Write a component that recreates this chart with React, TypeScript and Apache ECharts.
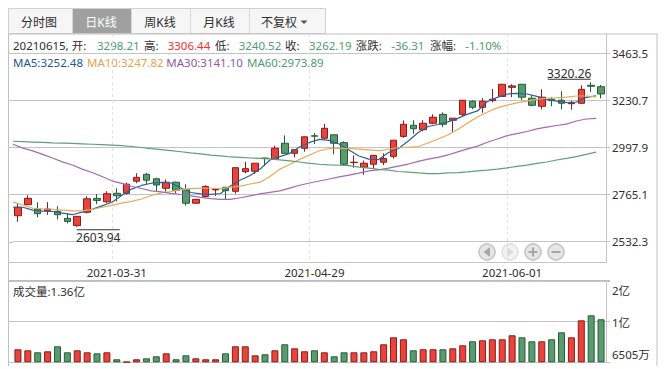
import React, { useEffect, useRef } from "react";
import * as echarts from "echarts";

const dates = [
  "2021-03-17","2021-03-18","2021-03-19","2021-03-22","2021-03-23","2021-03-24","2021-03-25","2021-03-26","2021-03-29","2021-03-30",
  "2021-03-31","2021-04-01","2021-04-02","2021-04-06","2021-04-07","2021-04-08","2021-04-09","2021-04-12","2021-04-13","2021-04-14",
  "2021-04-15","2021-04-16","2021-04-19","2021-04-20","2021-04-21","2021-04-22","2021-04-23","2021-04-26","2021-04-27","2021-04-28",
  "2021-04-29","2021-04-30","2021-05-06","2021-05-07","2021-05-10","2021-05-11","2021-05-12","2021-05-13","2021-05-14","2021-05-17",
  "2021-05-18","2021-05-19","2021-05-20","2021-05-21","2021-05-24","2021-05-25","2021-05-26","2021-05-27","2021-05-28","2021-05-31",
  "2021-06-01","2021-06-02","2021-06-03","2021-06-04","2021-06-07","2021-06-08","2021-06-09","2021-06-10","2021-06-11","2021-06-15",
];
const labelledDays = ["2021-03-31", "2021-04-29", "2021-06-01"];

// open, close, low, high
const candles: number[][] = [
  [2659,2701,2629,2717],[2714,2745,2711,2760],[2692,2669,2651,2726],[2684,2692,2663,2726],[2681,2664,2641,2706],
  [2646,2631,2621,2672],[2610,2656,2603.94,2658],[2676,2743,2671,2755],[2745,2735,2716,2767],[2728,2768,2722,2780],
  [2770,2758,2730,2795],[2770,2815,2763,2823],[2830,2849,2820,2869],[2864,2835,2815,2872],[2842,2811,2778,2847],
  [2795,2825,2778,2839],[2825,2785,2770,2828],[2788,2721,2709,2815],[2721,2740,2719,2742],[2754,2804,2750,2810],
  [2787,2790,2757,2792],[2800,2783,2742,2801],[2780,2897,2768,2898],[2877,2892,2869,2925],[2879,2919,2866,2920],
  [2945,2942,2905,2946],[2939,2993,2936,3006],[3018,2968,2967,3057],[2968,2986,2948,2987],[2993,3050,2976,3051],
  [3055,3053,3014,3069],[3043,3092,3038,3113],[3060,3018,2963,3061],[3021,2914,2909,3028],[2922,2924,2897,2958],
  [2899,2919,2862,2932],[2914,2958,2890,2960],[2924,2942,2910,2968],[2953,3033,2942,3034],[3052,3112,3045,3131],
  [3107,3090,3065,3132],[3085,3117,3077,3132],[3117,3147,3112,3161],[3161,3112,3097,3171],[3132,3142,3075,3143],
  [3161,3231,3151,3232],[3226,3196,3186,3231],[3196,3226,3169,3241],[3229,3236,3221,3287],[3250,3310,3249,3312],
  [3295,3302,3246,3310],[3310,3246,3231,3311],[3241,3206,3201,3256],[3201,3246,3186,3285],[3236,3229,3201,3246],
  [3231,3216,3186,3275],[3214,3217,3184,3229],[3216,3285,3214,3305],[3305,3300,3272,3320.26],[3298.21,3262.19,3240.52,3306.44],
];

const ma5 = [2701,2701,2687,2682,2680,2672,2664,2677,2691,2708,2726,2759,2791,2809,2820,2824,2821,2796,2774,2767,2765,2769,2806,2836,2858,2890,2935,2952,2968,2999,3022,3037,3032,3014,2985,2955,2939,2937,2972,2992,3029,3071,3101,3111,3124,3141,3162,3178,3225,3245,3262,3265,3262,3250,3236,3227,3219,3222,3245,3252.48];
const ma10 = [2726,2712,2696,2693,2691,2687,2683,2683,2690,2701,2710,2721,2730,2742,2759,2772,2779,2788,2793,2796,2795,2793,2800,2806,2816,2825,2853,2890,2913,2938,2960,2981,2992,2993,2992,2989,2985,2981,2987,2997,2998,3002,3019,3039,3059,3086,3118,3148,3173,3193,3207,3218,3227,3235,3241,3243,3246,3252,3252,3247.82];
const ma30 = [3013,2994,2980,2963,2945,2926,2910,2890,2873,2853,2832,2819,2805,2794,2782,2777,2770,2764,2757,2750,2744,2740,2740,2748,2757,2767,2775,2782,2796,2810,2821,2831,2841,2851,2860,2870,2881,2886,2895,2905,2915,2928,2939,2948,2960,2975,2990,3004,3023,3039,3056,3066,3076,3089,3098,3106,3113,3128,3138,3141.1];
const ma60 = [3028,3026,3024,3022,3020,3019,3017,3015,3013,3011,3009,3006,3002,2997,2991,2986,2981,2976,2970,2965,2959,2955,2950,2948,2945,2943,2941,2936,2931,2925,2918,2914,2911,2909,2907,2900,2895,2889,2885,2878,2875,2871,2868,2868,2871,2872,2876,2881,2885,2890,2896,2903,2910,2918,2925,2935,2943,2952,2963,2973.89];

// heights on the drawn volume axis (bottom tick = 0, "1亿" tick = 1, "2亿" tick = 2)
const volumes = [0.32,0.295,0.246,0.27,0.394,0.246,0.295,0.246,0.221,0.246,0.074,0.012,0.074,0.098,0.148,0.221,0.074,0.172,0.098,0.074,0.074,0.221,0.394,0.394,0.172,0.197,0.295,0.443,0.344,0.271,0.295,0.246,0.148,0.246,0.246,0.246,0.271,0.443,0.615,0.566,0.295,0.32,0.32,0.32,0.344,0.418,0.517,0.541,0.566,0.566,0.664,0.615,0.517,0.517,0.566,0.738,0.615,1.033,1.156,1.058];

const priceTicks = [2532.3, 2765.1, 2997.9, 3230.7, 3463.5];
const volumeTicks = [0, 1, 2];
const volumeLabelAnchors = [0.18, 0.967, 1.754];
const volumeTickLabels = ["6505万", "1亿", "2亿"];
const tabs = ["分时图", "日K线", "周K线", "月K线", "不复权"];
const highestHigh = 3320.26;
const lowestLow = 2603.94;

const UP = "#e8443c";
const UP_B = "#8c1a1a";
const DOWN = "#5b9a70";
const DOWN_B = "#235f33";
const LINE = "#c4c4c4";
const TEXT = "#2e2e2e";
const TXT_GREEN = "#4f9a72";
const TXT_RED = "#f23030";
const FONT = '"Noto Sans", "Noto Sans CJK SC", sans-serif';

function txt(x: number, y: number, text: string, fill = TEXT, align = "left", fontSize = 11.5) {
  return {
    type: "text", x, y, silent: true,
    style: { text, fill, font: `${fontSize}px ${FONT}`, align, verticalAlign: "middle" },
  };
}
function hline(x1: number, x2: number, y: number, stroke = LINE, lineWidth = 1) {
  return { type: "line", silent: true, shape: { x1, y1: y, x2, y2: y }, style: { stroke, lineWidth } };
}
function vline(x: number, y1: number, y2: number, stroke = LINE, lineWidth = 1) {
  return { type: "line", silent: true, shape: { x1: x, y1, x2: x, y2 }, style: { stroke, lineWidth } };
}

function button(cx: number, cy: number, glyph: string, faded: boolean) {
  const ring = faded ? "#e2e2e2" : "#c6c6c6";
  const mark = faded ? "#dcdcdc" : "#a8a8a8";
  const children: any[] = [
    { type: "circle", shape: { cx, cy, r: 8 }, style: { fill: faded ? "#f2f2f2" : "#e6e6e6", stroke: ring, lineWidth: 1.6 } },
  ];
  if (glyph === "left") children.push({ type: "polygon", shape: { points: [[cx + 3, cy - 5], [cx + 3, cy + 5], [cx - 3.5, cy]] }, style: { fill: mark } });
  if (glyph === "right") children.push({ type: "polygon", shape: { points: [[cx - 3, cy - 5], [cx - 3, cy + 5], [cx + 3.5, cy]] }, style: { fill: mark } });
  if (glyph === "plus" || glyph === "minus") children.push({ type: "rect", shape: { x: cx - 4.5, y: cy - 1, width: 9, height: 2 }, style: { fill: mark } });
  if (glyph === "plus") children.push({ type: "rect", shape: { x: cx - 1, y: cy - 4.5, width: 2, height: 9 }, style: { fill: mark } });
  return { type: "group", silent: true, children };
}

function chrome() {
  const tabEdges = [8.5, 72.5, 131.5, 190.5, 249.5, 325.5];
  const tabCentres = [39, 101, 160, 219, 279];
  const els: any[] = [];
  els.push({ type: "rect", silent: true, shape: { x: 8.5, y: 8.5, width: 317, height: 25 }, style: { fill: "#f6f6f6", stroke: "#d0d0d0", lineWidth: 1 } });
  els.push({ type: "rect", silent: true, shape: { x: 73, y: 9, width: 58, height: 24 }, style: { fill: "#a0a0a0" } });
  tabEdges.slice(1, -1).forEach((x) => els.push(vline(x, 9, 33, "#d8d8d8")));
  tabs.forEach((t, i) => els.push(txt(tabCentres[i], 22, t, i === 1 ? "#ffffff" : TEXT, "center", 12)));
  els.push({ type: "polygon", silent: true, shape: { points: [[300.5, 20.5], [307.5, 20.5], [304, 24]] }, style: { fill: "#555555" } });

  els.push(hline(8, 657.5, 34, "#c0c0c0"));
  els.push(vline(8.5, 34, 366, "#c0c0c0"));
  els.push(vline(657, 34, 366, "#c0c0c0"));
  [53.3, 100.3, 147.3, 194.3, 242, 262, 321.3, 362.3].forEach((y) => els.push(hline(8.5, 13, Math.round(y) + 0.5)));
  els.push(hline(8.5, 610, 281, "#bdbdbd", 2));

  // quote lines
  [
    [13, "20210615, 开:", TEXT], [97, "3298.21", TXT_GREEN], [144, "高:", TEXT], [167.7, "3306.44", TXT_RED],
    [215, "低:", TEXT], [238.7, "3240.52", TXT_GREEN], [285, "收:", TEXT], [309, "3262.19", TXT_GREEN],
    [355.7, "涨跌:", TEXT], [391.3, "-36.31", TXT_GREEN], [430, "涨幅:", TEXT], [465.3, "-1.10%", TXT_GREEN],
  ].forEach(([x, t, c]) => els.push(txt(x as number, 45, t as string, c as string)));
  [
    [13, "MA5:3252.48", "#23578f"], [87, "MA10:3247.82", "#e3a24c"], [166.3, "MA30:3141.10", "#8f5aa3"], [247, "MA60:2973.89", "#4f9a72"],
  ].forEach(([x, t, c]) => els.push(txt(x as number, 62.5, t as string, c as string)));
  els.push(txt(13, 291, "成交量:1.36亿"));

  els.push(button(487, 252, "left", false));
  els.push(button(510, 252, "right", true));
  els.push(button(533, 252, "plus", false));
  els.push(button(556, 252, "minus", false));
  return els;
}

export default function App() {
  const ref = useRef<HTMLDivElement>(null);
  useEffect(() => {
    const chart = echarts.init(ref.current!, undefined, { renderer: "svg" });
    const isUp = (c: number[]) => c[1] >= c[0];
    const maColors = ["#2a639b", "#e8a958", "#a06cb0", "#5f9f78"];
    const lineCats = dates.concat("");
    chart.setOption({
      animation: false,
      textStyle: { fontFamily: FONT },
      grid: [
        { left: 13, right: 62, top: 34, bottom: 369 - 262 },
        { left: 13, right: 62, top: 281, bottom: 369 - 362.3 },
      ],
      xAxis: [
        {
          type: "category", gridIndex: 0, data: dates, boundaryGap: true,
          axisLine: { lineStyle: { color: LINE } },
          axisTick: { alignWithLabel: true, length: 4, lineStyle: { color: "#dddddd" }, interval: (_: number, v: string) => labelledDays.includes(v) },
          axisLabel: { color: TEXT, fontSize: 11.5, margin: 5, interval: (_: number, v: string) => labelledDays.includes(v) },
          splitLine: { show: true, interval: (_: number, v: string) => labelledDays.includes(v), lineStyle: { color: "#e2e2e2", type: [3, 3] } },
        },
        { type: "category", gridIndex: 0, data: lineCats, boundaryGap: false, show: false, position: "top" },
        {
          type: "category", gridIndex: 1, data: dates, boundaryGap: true,
          axisLine: { lineStyle: { color: LINE } }, axisTick: { show: false }, axisLabel: { show: false }, splitLine: { show: false },
        },
      ],
      yAxis: [
        {
          type: "value", gridIndex: 0, position: "right", min: 2429.8, max: 3559.1, scale: true,
          axisLine: { show: true, lineStyle: { color: LINE } },
          axisTick: { show: true, length: 4, customValues: priceTicks, lineStyle: { color: LINE } },
          axisLabel: { color: TEXT, fontSize: 11.5, margin: 6, padding: [2, 0, 0, 0], customValues: priceTicks, formatter: (v: number) => v.toFixed(1), showMinLabel: true, showMaxLabel: true },
          splitLine: { show: true, lineStyle: { color: LINE } },
        },
        {
          type: "value", gridIndex: 1, position: "right", min: 0, max: 2,
          axisLine: { show: true, lineStyle: { color: LINE } },
          axisTick: { show: true, length: 4, customValues: volumeTicks, lineStyle: { color: LINE } },
          axisLabel: {
            color: TEXT, fontSize: 11.5, margin: 6, customValues: volumeLabelAnchors,
            formatter: (v: number) => volumeTickLabels[volumeLabelAnchors.indexOf(v)],
            showMinLabel: true, showMaxLabel: true,
          },
          splitLine: { show: true, lineStyle: { color: LINE } },
        },
      ],
      series: [
        {
          type: "candlestick", xAxisIndex: 0, yAxisIndex: 0, data: candles, barWidth: 7,
          itemStyle: { color: UP, color0: DOWN, borderColor: UP_B, borderColor0: DOWN_B, borderWidth: 1 },
          markPoint: {
            silent: true,
            data: [
              {
                coord: [58, highestHigh], symbol: "rect", symbolSize: [43, 1], symbolOffset: [-22, -3],
                itemStyle: { color: "#333333" },
                label: { show: true, position: "top", distance: -1, formatter: String(highestHigh.toFixed(2)), color: TEXT, fontSize: 12 },
              },
              {
                coord: [6, lowestLow], symbol: "rect", symbolSize: [43, 1], symbolOffset: [21, 3],
                itemStyle: { color: "#333333" },
                label: { show: true, position: "bottom", distance: 1, formatter: String(lowestLow.toFixed(2)), color: TEXT, fontSize: 12 },
              },
            ],
          },
        },
        ...[ma5, ma10, ma30, ma60].map((d, i) => ({
          type: "line", xAxisIndex: 1, yAxisIndex: 0, data: d, symbol: "none", showSymbol: false, smooth: false,
          lineStyle: { color: maColors[i], width: 1.2 }, z: 3,
        })),
        {
          type: "bar", xAxisIndex: 2, yAxisIndex: 1, barWidth: 7,
          data: volumes.map((v, i) => ({
            value: v,
            itemStyle: {
              color: isUp(candles[i]) ? UP : DOWN,
              borderColor: isUp(candles[i]) ? UP_B : DOWN_B,
              borderWidth: 1,
            },
          })),
        },
      ],
      graphic: { elements: chrome() },
    });
    return () => chart.dispose();
  }, []);
  return <div ref={ref} style={{ position: "absolute", left: 0, top: 0, width: 668, height: 369, background: "#fff" }} />;
}
